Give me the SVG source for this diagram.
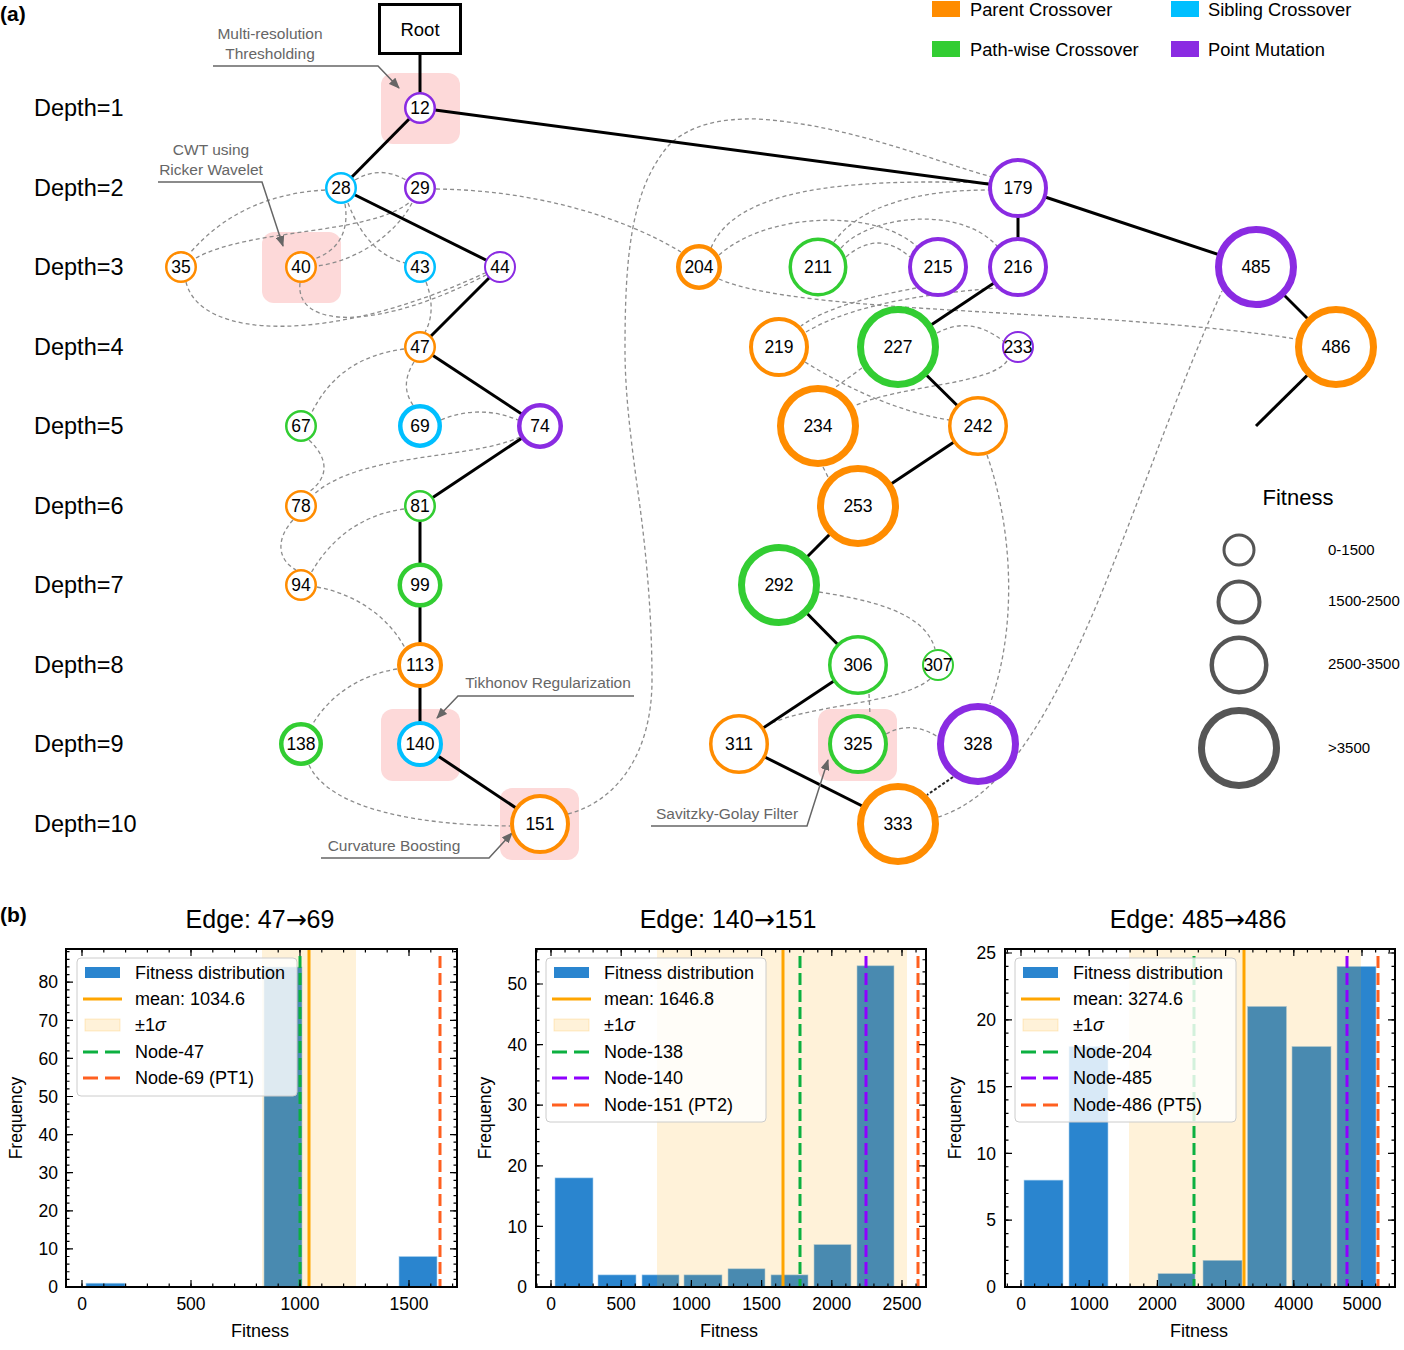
<svg xmlns="http://www.w3.org/2000/svg" width="1404" height="1350" viewBox="0 0 1404 1350">
<style>
text{font-family:"Liberation Sans",Arial,"DejaVu Sans",sans-serif;fill:#000}
.nd circle{fill:#fff}
.o{stroke:#FF8C00}.g{stroke:#32CD32}.c{stroke:#00BFFF}.p{stroke:#8A2BE2}
.nl{font-size:17.5px;text-anchor:middle}
.dl{font-size:23.5px}
.dash{fill:none;stroke:#8c8c8c;stroke-width:1.3;stroke-dasharray:4 3}
.tree{stroke:#000;stroke-width:3;fill:none}
.ann{fill:#666;font-size:15.5px;text-anchor:middle}
.annl{stroke:#666;stroke-width:1.5;fill:none}
.hl{fill:#fdd9d9}
.lg{font-size:18.3px}
.tk{font-size:18px}
.tkx{font-size:17.5px;text-anchor:middle}
.tky{font-size:17.5px;text-anchor:end}
.ttl{font-size:25px;text-anchor:middle}
.arr{font-family:"DejaVu Sans",sans-serif}
.bar{fill:#2a85cf;stroke:#a9d0ef;stroke-width:0.6}
.band{fill:#FFA500;fill-opacity:0.15}
.mean{stroke:#FFA500;stroke-width:3}
.dg{stroke:#0cb040;stroke-width:3;stroke-dasharray:12 5}
.dp{stroke:#8f00ff;stroke-width:3;stroke-dasharray:12 5}
.dr{stroke:#ff6020;stroke-width:3;stroke-dasharray:12 5}
.leg{fill:#fff;fill-opacity:0.82;stroke:#cccccc;stroke-width:1}
.frame{fill:none;stroke:#000;stroke-width:2}
.tick{stroke:#000;fill:none}
.fc{fill:none;stroke:#555}
</style>
<defs>
<marker id="ah" markerUnits="userSpaceOnUse" markerWidth="11" markerHeight="9" refX="10" refY="4.5" orient="auto"><path d="M0,0 L11,4.5 L0,9 z" fill="#666"/></marker>
</defs>

<text x="0" y="21" style="font-size:21px;font-weight:bold">(a)</text>
<text x="0" y="922" style="font-size:21px;font-weight:bold">(b)</text>

<g id="op-legend">
<rect x="932" y="1" width="28" height="16" fill="#FF8C00"/><text class="lg" x="970" y="16">Parent Crossover</text>
<rect x="1171" y="1" width="28" height="16" fill="#00BFFF"/><text class="lg" x="1208" y="16">Sibling Crossover</text>
<rect x="932" y="41" width="28" height="16" fill="#32CD32"/><text class="lg" x="970" y="55.5">Path-wise Crossover</text>
<rect x="1171" y="41" width="28" height="16" fill="#8A2BE2"/><text class="lg" x="1208" y="55.5">Point Mutation</text>
</g>

<g id="depth-labels">
<text class="dl" x="34" y="116">Depth=1</text>
<text class="dl" x="34" y="196">Depth=2</text>
<text class="dl" x="34" y="275">Depth=3</text>
<text class="dl" x="34" y="355">Depth=4</text>
<text class="dl" x="34" y="434">Depth=5</text>
<text class="dl" x="34" y="514">Depth=6</text>
<text class="dl" x="34" y="593">Depth=7</text>
<text class="dl" x="34" y="673">Depth=8</text>
<text class="dl" x="34" y="752">Depth=9</text>
<text class="dl" x="34" y="832">Depth=10</text>
</g>

<g id="highlights">
<rect class="hl" x="381" y="73" width="79" height="71" rx="12"/>
<rect class="hl" x="262" y="232" width="79" height="71" rx="12"/>
<rect class="hl" x="381" y="709" width="79" height="72" rx="12"/>
<rect class="hl" x="500" y="788" width="79" height="72" rx="12"/>
<rect class="hl" x="818" y="709" width="79" height="72" rx="12"/>
</g>

<g id="connectors">
<g id="dashed-links">
<path class="dash" d="M355,180 Q380,165 406,180"/>
<path class="dash" d="M325,190 Q240,195 190,253"/>
<path class="dash" d="M196,258 C250,228 370,235 410,202"/>
<path class="dash" d="M345,204 C350,235 335,252 314,259"/>
<path class="dash" d="M412,203 C392,240 350,262 317,266"/>
<path class="dash" d="M348,203 C362,240 382,257 405,263"/>
<path class="dash" d="M436,189 C530,190 620,215 681,252"/>
<path class="dash" d="M186,282 C200,340 330,345 485,273"/>
<path class="dash" d="M300,283 C295,330 380,330 486,275"/>
<path class="dash" d="M426,282 C433,300 433,318 425,332"/>
<path class="dash" d="M404,349 C360,355 330,375 311,414"/>
<path class="dash" d="M414,362 C404,378 404,392 413,405"/>
<path class="dash" d="M441,420 Q479,404 518,420"/>
<path class="dash" d="M309,440 C330,460 328,478 309,492"/>
<path class="dash" d="M520,437 C470,460 360,452 313,495"/>
<path class="dash" d="M404,509 C360,515 330,540 311,573"/>
<path class="dash" d="M293,520 C275,540 278,560 296,570"/>
<path class="dash" d="M317,587 C360,595 390,620 405,648"/>
<path class="dash" d="M397,669 C360,675 330,695 312,725"/>
<path class="dash" d="M309,765 C330,810 420,825 510,826"/>
<path class="dash" d="M568,814 C620,800 652,750 652,680 C652,620 647,560 640,507 C633,455 625,400 625,350 C625,260 630,190 669,145 C690,125 720,118 758,119 C850,125 930,160 992,177"/>
<path class="dash" d="M711,248 C735,190 840,178 989,183"/>
<path class="dash" d="M834,242 C860,205 920,190 989,190"/>
<path class="dash" d="M719,255 C770,210 880,210 917,247"/>
<path class="dash" d="M841,248 C870,215 960,205 997,246"/>
<path class="dash" d="M846,257 Q878,229 910,257"/>
<path class="dash" d="M719,279 C800,315 1100,308 1296,339"/>
<path class="dash" d="M916,288 C880,295 830,305 801,326"/>
<path class="dash" d="M806,332 C860,300 950,292 997,288"/>
<path class="dash" d="M805,362 C850,390 900,412 949,420"/>
<path class="dash" d="M937,333 Q970,315 1003,341"/>
<path class="dash" d="M1007,361 C990,385 900,385 854,406"/>
<path class="dash" d="M862,368 L833,389"/>
<path class="dash" d="M823,467 L828,477"/>
<path class="dash" d="M987,455 C1010,520 1020,620 990,704"/>
<path class="dash" d="M819,592 C870,600 925,612 935,649"/>
<path class="dash" d="M930,679 C900,705 800,705 764,727"/>
<path class="dash" d="M869,694 L870,715"/>
<path class="dash" d="M886,734 Q912,720 938,737"/>
<path class="dash" d="M938,817 C1060,780 1120,520 1222,291"/>
</g>
<g id="tree-edges" class="tree">
<line x1="420" y1="54" x2="420" y2="108"/>
<line x1="420" y1="108" x2="341" y2="188"/>
<line x1="420" y1="108" x2="1018" y2="188"/>
<line x1="341" y1="188" x2="500" y2="267"/>
<line x1="500" y1="267" x2="420" y2="347"/>
<line x1="420" y1="347" x2="540" y2="426"/>
<line x1="540" y1="426" x2="420" y2="506"/>
<line x1="420" y1="506" x2="420" y2="744"/>
<line x1="420" y1="744" x2="540" y2="824"/>
<line x1="1018" y1="188" x2="1018" y2="267"/>
<line x1="1018" y1="188" x2="1256" y2="267"/>
<line x1="1018" y1="267" x2="898" y2="347"/>
<line x1="898" y1="347" x2="978" y2="426"/>
<line x1="978" y1="426" x2="858" y2="506"/>
<line x1="858" y1="506" x2="779" y2="585"/>
<line x1="779" y1="585" x2="858" y2="665"/>
<line x1="858" y1="665" x2="739" y2="744"/>
<line x1="739" y1="744" x2="898" y2="824"/>
<line x1="1256" y1="267" x2="1336" y2="347"/>
<line x1="1336" y1="347" x2="1256" y2="426"/>
</g>
<path d="M953,777 L927,795" stroke="#222" stroke-width="2" stroke-dasharray="3 2" fill="none"/>
<g id="annotation-arrows" class="annl">
<polyline points="213,66 378,66 399,88" marker-end="url(#ah)"/>
<polyline points="158,182 262,182 283,246" marker-end="url(#ah)"/>
<polyline points="634,696 458,696 437,718" marker-end="url(#ah)"/>
<polyline points="321,858 489,858 512,833" marker-end="url(#ah)"/>
<polyline points="651,826 807,826 828,760" marker-end="url(#ah)"/>
</g>
</g>

<g id="annotations">
<text class="ann" x="270" y="39">Multi-resolution</text>
<text class="ann" x="270" y="59">Thresholding</text>
<text class="ann" x="211" y="154.5">CWT using</text>
<text class="ann" x="211" y="174.5">Ricker Wavelet</text>
<text class="ann" x="548" y="687.5">Tikhonov Regularization</text>
<text class="ann" x="394" y="850.5">Curvature Boosting</text>
<text class="ann" x="727" y="818.5">Savitzky-Golay Filter</text>
</g>

<g id="root"><rect x="379.5" y="4.5" width="81" height="49" fill="#fff" stroke="#000" stroke-width="3"/><text x="420" y="35.5" style="font-size:18.5px;text-anchor:middle">Root</text></g>

<g id="n12" class="nd"><circle class="p" cx="420" cy="108" r="14.75" stroke-width="2.5"/><text class="nl" x="420" y="114">12</text></g>
<g id="n28" class="nd"><circle class="c" cx="341" cy="188" r="14.75" stroke-width="2.5"/><text class="nl" x="341" y="194">28</text></g>
<g id="n29" class="nd"><circle class="p" cx="420" cy="188" r="14.75" stroke-width="2.5"/><text class="nl" x="420" y="194">29</text></g>
<g id="n35" class="nd"><circle class="o" cx="181" cy="267" r="14.75" stroke-width="2.5"/><text class="nl" x="181" y="273">35</text></g>
<g id="n40" class="nd"><circle class="o" cx="301" cy="267" r="14.75" stroke-width="2.5"/><text class="nl" x="301" y="273">40</text></g>
<g id="n43" class="nd"><circle class="c" cx="420" cy="267" r="14.75" stroke-width="2.5"/><text class="nl" x="420" y="273">43</text></g>
<g id="n44" class="nd"><circle class="p" cx="500" cy="267" r="15" stroke-width="2"/><text class="nl" x="500" y="273">44</text></g>
<g id="n47" class="nd"><circle class="o" cx="420" cy="347" r="14.75" stroke-width="2.5"/><text class="nl" x="420" y="353">47</text></g>
<g id="n67" class="nd"><circle class="g" cx="301" cy="426" r="14.75" stroke-width="2.5"/><text class="nl" x="301" y="432">67</text></g>
<g id="n69" class="nd"><circle class="c" cx="420" cy="426" r="19.75" stroke-width="4.5"/><text class="nl" x="420" y="432">69</text></g>
<g id="n74" class="nd"><circle class="p" cx="540" cy="426" r="20.75" stroke-width="4.5"/><text class="nl" x="540" y="432">74</text></g>
<g id="n78" class="nd"><circle class="o" cx="301" cy="506" r="14.75" stroke-width="2.5"/><text class="nl" x="301" y="512">78</text></g>
<g id="n81" class="nd"><circle class="g" cx="420" cy="506" r="14.75" stroke-width="2.5"/><text class="nl" x="420" y="512">81</text></g>
<g id="n94" class="nd"><circle class="o" cx="301" cy="585" r="14.75" stroke-width="2.5"/><text class="nl" x="301" y="591">94</text></g>
<g id="n99" class="nd"><circle class="g" cx="420" cy="585" r="20.25" stroke-width="4.5"/><text class="nl" x="420" y="591">99</text></g>
<g id="n113" class="nd"><circle class="o" cx="420" cy="665" r="21" stroke-width="4"/><text class="nl" x="420" y="671">113</text></g>
<g id="n138" class="nd"><circle class="g" cx="301" cy="744" r="19.75" stroke-width="4.5"/><text class="nl" x="301" y="750">138</text></g>
<g id="n140" class="nd"><circle class="c" cx="420" cy="744" r="21" stroke-width="4"/><text class="nl" x="420" y="750">140</text></g>
<g id="n151" class="nd"><circle class="o" cx="540" cy="824" r="28" stroke-width="4"/><text class="nl" x="540" y="830">151</text></g>
<g id="n179" class="nd"><circle class="p" cx="1018" cy="188" r="28" stroke-width="4"/><text class="nl" x="1018" y="194">179</text></g>
<g id="n204" class="nd"><circle class="o" cx="699" cy="267" r="20.75" stroke-width="4.5"/><text class="nl" x="699" y="273">204</text></g>
<g id="n211" class="nd"><circle class="g" cx="818" cy="267" r="27.75" stroke-width="3.5"/><text class="nl" x="818" y="273">211</text></g>
<g id="n215" class="nd"><circle class="p" cx="938" cy="267" r="28" stroke-width="4"/><text class="nl" x="938" y="273">215</text></g>
<g id="n216" class="nd"><circle class="p" cx="1018" cy="267" r="28" stroke-width="4"/><text class="nl" x="1018" y="273">216</text></g>
<g id="n485" class="nd"><circle class="p" cx="1256" cy="267" r="37.5" stroke-width="7"/><text class="nl" x="1256" y="273">485</text></g>
<g id="n219" class="nd"><circle class="o" cx="779" cy="347" r="28" stroke-width="4"/><text class="nl" x="779" y="353">219</text></g>
<g id="n227" class="nd"><circle class="g" cx="898" cy="347" r="37.5" stroke-width="7"/><text class="nl" x="898" y="353">227</text></g>
<g id="n233" class="nd"><circle class="p" cx="1018" cy="347" r="15" stroke-width="2"/><text class="nl" x="1018" y="353">233</text></g>
<g id="n486" class="nd"><circle class="o" cx="1336" cy="347" r="37.5" stroke-width="7"/><text class="nl" x="1336" y="353">486</text></g>
<g id="n234" class="nd"><circle class="o" cx="818" cy="426" r="37.5" stroke-width="7"/><text class="nl" x="818" y="432">234</text></g>
<g id="n242" class="nd"><circle class="o" cx="978" cy="426" r="28.25" stroke-width="3.5"/><text class="nl" x="978" y="432">242</text></g>
<g id="n253" class="nd"><circle class="o" cx="858" cy="506" r="37.5" stroke-width="7"/><text class="nl" x="858" y="512">253</text></g>
<g id="n292" class="nd"><circle class="g" cx="779" cy="585" r="37.5" stroke-width="7"/><text class="nl" x="779" y="591">292</text></g>
<g id="n306" class="nd"><circle class="g" cx="858" cy="665" r="28.25" stroke-width="3.5"/><text class="nl" x="858" y="671">306</text></g>
<g id="n307" class="nd"><circle class="g" cx="938" cy="665" r="15" stroke-width="2"/><text class="nl" x="938" y="671">307</text></g>
<g id="n311" class="nd"><circle class="o" cx="739" cy="744" r="28.25" stroke-width="3.5"/><text class="nl" x="739" y="750">311</text></g>
<g id="n325" class="nd"><circle class="g" cx="858" cy="744" r="28" stroke-width="4"/><text class="nl" x="858" y="750">325</text></g>
<g id="n328" class="nd"><circle class="p" cx="978" cy="744" r="37.5" stroke-width="7"/><text class="nl" x="978" y="750">328</text></g>
<g id="n333" class="nd"><circle class="o" cx="898" cy="824" r="37.5" stroke-width="7"/><text class="nl" x="898" y="830">333</text></g>

<g id="fitness-legend">
<text x="1298" y="505" style="font-size:22px;text-anchor:middle">Fitness</text>
<circle class="fc" cx="1239" cy="550" r="15" stroke-width="3"/>
<circle class="fc" cx="1239" cy="602" r="20.5" stroke-width="4"/>
<circle class="fc" cx="1239" cy="665" r="27.25" stroke-width="4.5"/>
<circle class="fc" cx="1239" cy="748" r="37.5" stroke-width="7"/>
<text x="1328" y="555" style="font-size:15px">0-1500</text>
<text x="1328" y="606" style="font-size:15px">1500-2500</text>
<text x="1328" y="669" style="font-size:15px">2500-3500</text>
<text x="1328" y="753" style="font-size:15px">&gt;3500</text>
</g>

<!-- Panel b1 -->
<g id="hist1">
<text class="ttl" x="260" y="928">Edge: 47<tspan class="arr">→</tspan>69</text>
<rect class="bar" x="86" y="1283.2" width="39" height="3.8"/>
<rect class="bar" x="264" y="967" width="38" height="320"/>
<rect class="bar" x="399" y="1256.5" width="38" height="30.5"/>
<rect class="band" x="262" y="949" width="94" height="338"/>
<line class="mean" x1="309" y1="949" x2="309" y2="1287"/>
<line class="dg" x1="300" y1="956" x2="300" y2="1287"/>
<line class="dr" x1="440" y1="956" x2="440" y2="1287"/>
<rect class="leg" x="77" y="958" width="220" height="138" rx="4"/>
<rect x="85" y="967" width="35" height="11" fill="#2a85cf"/>
<line x1="83" y1="999" x2="122" y2="999" class="mean"/>
<rect x="85" y="1019" width="35" height="12" fill="#FFA500" fill-opacity="0.15" stroke="#FFA500" stroke-opacity="0.2"/>
<line x1="83" y1="1052" x2="122" y2="1052" stroke="#0cb040" stroke-width="3" stroke-dasharray="15 7"/>
<line x1="83" y1="1078" x2="122" y2="1078" stroke="#ff6020" stroke-width="3" stroke-dasharray="15 7"/>
<text class="tk" x="135" y="979">Fitness distribution</text>
<text class="tk" x="135" y="1005">mean: 1034.6</text>
<text class="tk" x="135" y="1031">±1<tspan font-style="italic">σ</tspan></text>
<text class="tk" x="135" y="1058">Node-47</text>
<text class="tk" x="135" y="1084">Node-69 (PT1)</text>
<rect class="frame" x="66" y="949" width="391" height="338"/>
<g class="tick">
<line x1="81.4" y1="1285.25" x2="457" y2="1285.25" stroke-width="3.5" stroke-dasharray="1.2 20.6"/>
<line x1="81.4" y1="1283.5" x2="457" y2="1283.5" stroke-width="7" stroke-dasharray="1.2 107.8"/>
<line x1="81.4" y1="950.75" x2="457" y2="950.75" stroke-width="3.5" stroke-dasharray="1.2 20.6"/>
<line x1="81.4" y1="952.5" x2="457" y2="952.5" stroke-width="7" stroke-dasharray="1.2 107.8"/>
<line x1="67.75" y1="1287.6" x2="67.75" y2="949" stroke-width="3.5" stroke-dasharray="1.2 6.42"/>
<line x1="69.5" y1="1287.6" x2="69.5" y2="949" stroke-width="7" stroke-dasharray="1.2 36.9"/>
<line x1="455.25" y1="1287.6" x2="455.25" y2="949" stroke-width="3.5" stroke-dasharray="1.2 6.42"/>
<line x1="453.5" y1="1287.6" x2="453.5" y2="949" stroke-width="7" stroke-dasharray="1.2 36.9"/>
</g>
<text class="tky" x="58" y="1293">0</text>
<text class="tky" x="58" y="1255">10</text>
<text class="tky" x="58" y="1217">20</text>
<text class="tky" x="58" y="1179">30</text>
<text class="tky" x="58" y="1141">40</text>
<text class="tky" x="58" y="1102.5">50</text>
<text class="tky" x="58" y="1064.5">60</text>
<text class="tky" x="58" y="1026.5">70</text>
<text class="tky" x="58" y="988">80</text>
<text class="tkx" x="82" y="1310">0</text>
<text class="tkx" x="191" y="1310">500</text>
<text class="tkx" x="300" y="1310">1000</text>
<text class="tkx" x="409" y="1310">1500</text>
<text x="260" y="1337" style="font-size:18px;text-anchor:middle">Fitness</text>
<text transform="translate(22,1118) rotate(-90)" style="font-size:17.5px;text-anchor:middle">Frequency</text>
</g>

<!-- Panel b2 -->
<g id="hist2">
<text class="ttl" x="728" y="928">Edge: 140<tspan class="arr">→</tspan>151</text>
<rect class="bar" x="555" y="1177.9" width="38" height="109.1"/>
<rect class="bar" x="598" y="1274.9" width="38" height="12.1"/>
<rect class="bar" x="642" y="1274.9" width="37" height="12.1"/>
<rect class="bar" x="684" y="1274.9" width="38" height="12.1"/>
<rect class="bar" x="728" y="1268.8" width="37" height="18.2"/>
<rect class="bar" x="771" y="1274.9" width="37" height="12.1"/>
<rect class="bar" x="814" y="1244.6" width="37" height="42.4"/>
<rect class="bar" x="857" y="965.8" width="37" height="321.2"/>
<rect class="band" x="657" y="949" width="250" height="338"/>
<line class="mean" x1="783" y1="949" x2="783" y2="1287"/>
<line class="dg" x1="800" y1="956" x2="800" y2="1287"/>
<line class="dp" x1="866" y1="956" x2="866" y2="1287"/>
<line class="dr" x1="918" y1="956" x2="918" y2="1287"/>
<rect class="leg" x="546" y="958" width="220" height="164" rx="4"/>
<rect x="554" y="967" width="35" height="11" fill="#2a85cf"/>
<line x1="552" y1="999" x2="591" y2="999" class="mean"/>
<rect x="554" y="1019" width="35" height="12" fill="#FFA500" fill-opacity="0.15" stroke="#FFA500" stroke-opacity="0.2"/>
<line x1="552" y1="1052" x2="591" y2="1052" stroke="#0cb040" stroke-width="3" stroke-dasharray="15 7"/>
<line x1="552" y1="1078" x2="591" y2="1078" stroke="#8f00ff" stroke-width="3" stroke-dasharray="15 7"/>
<line x1="552" y1="1105" x2="591" y2="1105" stroke="#ff6020" stroke-width="3" stroke-dasharray="15 7"/>
<text class="tk" x="604" y="979">Fitness distribution</text>
<text class="tk" x="604" y="1005">mean: 1646.8</text>
<text class="tk" x="604" y="1031">±1<tspan font-style="italic">σ</tspan></text>
<text class="tk" x="604" y="1058">Node-138</text>
<text class="tk" x="604" y="1084">Node-140</text>
<text class="tk" x="604" y="1111">Node-151 (PT2)</text>
<rect class="frame" x="536" y="949" width="390" height="338"/>
<g class="tick">
<line x1="536.36" y1="1285.25" x2="926" y2="1285.25" stroke-width="3.5" stroke-dasharray="1.2 12.84"/>
<line x1="550.4" y1="1283.5" x2="926" y2="1283.5" stroke-width="7" stroke-dasharray="1.2 69"/>
<line x1="536.36" y1="950.75" x2="926" y2="950.75" stroke-width="3.5" stroke-dasharray="1.2 12.84"/>
<line x1="550.4" y1="952.5" x2="926" y2="952.5" stroke-width="7" stroke-dasharray="1.2 69"/>
<line x1="537.75" y1="1287.6" x2="537.75" y2="949" stroke-width="3.5" stroke-dasharray="1.2 10.92"/>
<line x1="539.5" y1="1287.6" x2="539.5" y2="949" stroke-width="7" stroke-dasharray="1.2 59.4"/>
<line x1="924.25" y1="1287.6" x2="924.25" y2="949" stroke-width="3.5" stroke-dasharray="1.2 10.92"/>
<line x1="922.5" y1="1287.6" x2="922.5" y2="949" stroke-width="7" stroke-dasharray="1.2 59.4"/>
</g>
<text class="tky" x="527" y="1293">0</text>
<text class="tky" x="527" y="1232.5">10</text>
<text class="tky" x="527" y="1172">20</text>
<text class="tky" x="527" y="1111">30</text>
<text class="tky" x="527" y="1050.5">40</text>
<text class="tky" x="527" y="990">50</text>
<text class="tkx" x="551" y="1310">0</text>
<text class="tkx" x="621.2" y="1310">500</text>
<text class="tkx" x="691.4" y="1310">1000</text>
<text class="tkx" x="761.6" y="1310">1500</text>
<text class="tkx" x="831.8" y="1310">2000</text>
<text class="tkx" x="902" y="1310">2500</text>
<text x="729" y="1337" style="font-size:18px;text-anchor:middle">Fitness</text>
<text transform="translate(491,1118) rotate(-90)" style="font-size:17.5px;text-anchor:middle">Frequency</text>
</g>

<!-- Panel b3 -->
<g id="hist3">
<text class="ttl" x="1198" y="928">Edge: 485<tspan class="arr">→</tspan>486</text>
<rect class="bar" x="1024" y="1180.1" width="39" height="106.9"/>
<rect class="bar" x="1069" y="1046.5" width="39" height="240.5"/>
<rect class="bar" x="1158" y="1273.6" width="37" height="13.4"/>
<rect class="bar" x="1203" y="1260.3" width="39" height="26.7"/>
<rect class="bar" x="1247.5" y="1006.4" width="39" height="280.6"/>
<rect class="bar" x="1292" y="1046.5" width="39" height="240.5"/>
<rect class="bar" x="1337" y="966.4" width="39" height="320.6"/>
<rect class="band" x="1129" y="949" width="232" height="338"/>
<line class="mean" x1="1244" y1="949" x2="1244" y2="1287"/>
<line class="dg" x1="1194" y1="956" x2="1194" y2="1287"/>
<line class="dp" x1="1347" y1="956" x2="1347" y2="1287"/>
<line class="dr" x1="1378" y1="956" x2="1378" y2="1287"/>
<rect class="leg" x="1015" y="958" width="221" height="164" rx="4"/>
<rect x="1023" y="967" width="35" height="11" fill="#2a85cf"/>
<line x1="1021" y1="999" x2="1060" y2="999" class="mean"/>
<rect x="1023" y="1019" width="35" height="12" fill="#FFA500" fill-opacity="0.15" stroke="#FFA500" stroke-opacity="0.2"/>
<line x1="1021" y1="1052" x2="1060" y2="1052" stroke="#0cb040" stroke-width="3" stroke-dasharray="15 7"/>
<line x1="1021" y1="1078" x2="1060" y2="1078" stroke="#8f00ff" stroke-width="3" stroke-dasharray="15 7"/>
<line x1="1021" y1="1105" x2="1060" y2="1105" stroke="#ff6020" stroke-width="3" stroke-dasharray="15 7"/>
<text class="tk" x="1073" y="979">Fitness distribution</text>
<text class="tk" x="1073" y="1005">mean: 3274.6</text>
<text class="tk" x="1073" y="1031">±1<tspan font-style="italic">σ</tspan></text>
<text class="tk" x="1073" y="1058">Node-204</text>
<text class="tk" x="1073" y="1084">Node-485</text>
<text class="tk" x="1073" y="1111">Node-486 (PT5)</text>
<rect class="frame" x="1005" y="949" width="390" height="338"/>
<g class="tick">
<line x1="1006.76" y1="1285.25" x2="1395" y2="1285.25" stroke-width="3.5" stroke-dasharray="1.2 12.44"/>
<line x1="1020.4" y1="1283.5" x2="1395" y2="1283.5" stroke-width="7" stroke-dasharray="1.2 67"/>
<line x1="1006.76" y1="950.75" x2="1395" y2="950.75" stroke-width="3.5" stroke-dasharray="1.2 12.44"/>
<line x1="1020.4" y1="952.5" x2="1395" y2="952.5" stroke-width="7" stroke-dasharray="1.2 67"/>
<line x1="1006.75" y1="1287.6" x2="1006.75" y2="949" stroke-width="3.5" stroke-dasharray="1.2 12.16"/>
<line x1="1008.5" y1="1287.6" x2="1008.5" y2="949" stroke-width="7" stroke-dasharray="1.2 65.6"/>
<line x1="1393.25" y1="1287.6" x2="1393.25" y2="949" stroke-width="3.5" stroke-dasharray="1.2 12.16"/>
<line x1="1391.5" y1="1287.6" x2="1391.5" y2="949" stroke-width="7" stroke-dasharray="1.2 65.6"/>
</g>
<text class="tky" x="996" y="1293">0</text>
<text class="tky" x="996" y="1226">5</text>
<text class="tky" x="996" y="1159.5">10</text>
<text class="tky" x="996" y="1092.5">15</text>
<text class="tky" x="996" y="1026">20</text>
<text class="tky" x="996" y="959">25</text>
<text class="tkx" x="1021" y="1310">0</text>
<text class="tkx" x="1089.2" y="1310">1000</text>
<text class="tkx" x="1157.4" y="1310">2000</text>
<text class="tkx" x="1225.6" y="1310">3000</text>
<text class="tkx" x="1293.8" y="1310">4000</text>
<text class="tkx" x="1362" y="1310">5000</text>
<text x="1199" y="1337" style="font-size:18px;text-anchor:middle">Fitness</text>
<text transform="translate(961,1118) rotate(-90)" style="font-size:17.5px;text-anchor:middle">Frequency</text>
</g>
</svg>
